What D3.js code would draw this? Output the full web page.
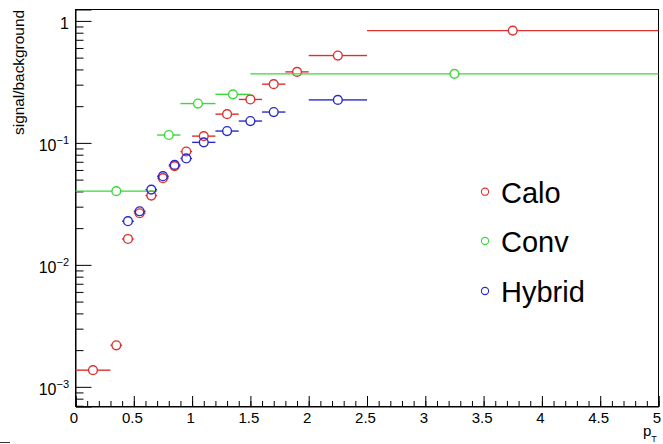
<!DOCTYPE html>
<html>
<head>
<meta charset="utf-8">
<script src="https://cdn.jsdelivr.net/npm/d3@7"></script>
<style>
  html, body { margin: 0; padding: 0; background: #fff; }
  svg { display: block; font-family: "Liberation Sans", Arial, Helvetica, sans-serif; }
</style>
</head>
<body>
<svg id="chart" width="663" height="444"></svg>
<script>
// signal/background vs pT for three photon reconstruction methods (ROOT-style log plot)

// Calo: bin edges and ratio values
const caloLo = [0.0, 0.3, 0.4, 0.5, 0.6, 0.7, 0.8, 0.9, 1.0, 1.2, 1.4, 1.6, 1.8, 2.0, 2.5];
const caloHi = [0.3, 0.4, 0.5, 0.6, 0.7, 0.8, 0.9, 1.0, 1.2, 1.4, 1.6, 1.8, 2.0, 2.5, 5.0];
const caloVal = [0.00137, 0.00219, 0.0163, 0.0265, 0.037, 0.0514, 0.0645, 0.085, 0.1136, 0.172, 0.227, 0.303, 0.382, 0.52, 0.833];

// Conv
const convLo = [0.0, 0.7, 0.9, 1.2, 1.5];
const convHi = [0.7, 0.9, 1.2, 1.5, 5.0];
const convVal = [0.0402, 0.116, 0.21, 0.25, 0.368];

// Hybrid
const hybLo = [0.4, 0.5, 0.6, 0.7, 0.8, 0.9, 1.0, 1.2, 1.4, 1.6, 2.0];
const hybHi = [0.5, 0.6, 0.7, 0.8, 0.9, 1.0, 1.2, 1.4, 1.6, 1.8, 2.5];
const hybVal = [0.0228, 0.0275, 0.0414, 0.0533, 0.066, 0.0745, 0.101, 0.125, 0.151, 0.179, 0.225];

const seriesNames = ['Calo', 'Conv', 'Hybrid'];
const seriesColors = ['#dd3030', '#3ad83a', '#2b2bc8'];

const xMajor = d3.range(0, 5.001, 0.5);
const xMinor = d3.range(0, 5.001, 0.1);
const yMajor = [1e-3, 1e-2, 1e-1, 1];

const svg = d3.select('#chart');
const frame = { left: 75.5, right: 658.5, top: 9.5, bottom: 406.5 };

const x = d3.scaleLinear().domain([0, 5]).range([frame.left, frame.right]);
const y = d3.scaleLog().domain([6.9e-4, 1.24]).range([frame.bottom, frame.top]);

// minor y ticks: 2..9 in each decade inside the domain
const yMinor = [];
[-4, -3, -2, -1, 0].forEach(e => {
  for (let m = 2; m <= 9; m++) {
    const v = m * Math.pow(10, e);
    if (v >= y.domain()[0] && v <= y.domain()[1]) yMinor.push(v);
  }
});

// frame
svg.append('rect').attr('x', frame.left).attr('y', frame.top)
  .attr('width', frame.right - frame.left).attr('height', frame.bottom - frame.top)
  .attr('fill', 'none').attr('stroke', '#000').attr('stroke-width', 1);

// x axis: ticks point up into the frame; ROOT nudges the labels a little left
svg.append('g').attr('transform', `translate(0,${frame.bottom})`)
  .call(d3.axisBottom(x).tickValues(xMinor).tickSize(-5.5).tickFormat(''))
  .call(g => g.select('.domain').remove());
svg.append('g').attr('transform', `translate(0,${frame.bottom})`)
  .call(d3.axisBottom(x).tickValues(xMajor).tickSize(-10.5).tickPadding(6).tickFormat(d3.format('~g')))
  .call(g => g.select('.domain').attr('stroke', '#000'))
  .call(g => g.selectAll('text').attr('x', -2).attr('font-size', 15).attr('font-family', null).attr('fill', '#000'));

// y axis: ticks point right into the frame
svg.append('g').attr('transform', `translate(${frame.left},0)`)
  .call(d3.axisLeft(y).tickValues(yMinor).tickSize(-8).tickFormat(''))
  .call(g => g.select('.domain').remove());
svg.append('g').attr('transform', `translate(${frame.left},0)`)
  .call(d3.axisLeft(y).tickValues(yMajor).tickSize(-16).tickFormat(''))
  .call(g => g.select('.domain').attr('stroke', '#000'));

// y labels with superscript exponents
yMajor.forEach(v => {
  const e = Math.round(Math.log10(v));
  const t = svg.append('text').attr('x', 69).attr('y', y(v) + 8.5)
    .attr('text-anchor', 'end').attr('font-size', 16).attr('fill', '#000');
  if (e === 0) {
    t.text('1');
  } else {
    t.append('tspan').text('10');
    t.append('tspan').attr('dy', -7).attr('font-size', 11).text('\u2212' + (-e));
  }
});

// axis titles
svg.append('text').attr('transform', 'translate(24,10) rotate(-90)')
  .attr('text-anchor', 'end').attr('font-size', 14.5).attr('fill', '#000')
  .attr('textLength', 125).attr('lengthAdjust', 'spacingAndGlyphs').text('signal/background');
const xt = svg.append('text').attr('x', 643).attr('y', 436).attr('font-size', 15).attr('fill', '#000');
xt.append('tspan').text('p');
xt.append('tspan').attr('dy', 6).attr('font-size', 9).text('T');

// stray canvas mark in the bottom-left corner
svg.append('line').attr('x1', 0).attr('x2', 10).attr('y1', 442.5).attr('y2', 442.5)
  .attr('stroke', '#333').attr('stroke-width', 1);

// data points with horizontal bin-width error bars (not drawn inside the marker)
const r = 4.4;
const sets = [
  { lo: caloLo, hi: caloHi, val: caloVal },
  { lo: convLo, hi: convHi, val: convVal },
  { lo: hybLo, hi: hybHi, val: hybVal }
];
const plot = svg.append('g');
sets.forEach((s, k) => {
  const pts = s.val.map((v, i) => ({ lo: s.lo[i], hi: s.hi[i], c: (s.lo[i] + s.hi[i]) / 2, v }));
  const g = plot.append('g').attr('stroke', seriesColors[k]).attr('stroke-width', 1.4).attr('fill', 'none');
  g.selectAll('.el').data(pts).enter().append('line')
    .attr('x1', d => x(d.lo)).attr('x2', d => Math.max(x(d.lo), x(d.c) - r))
    .attr('y1', d => y(d.v)).attr('y2', d => y(d.v));
  g.selectAll('.er').data(pts).enter().append('line')
    .attr('x1', d => Math.min(x(d.hi), x(d.c) + r)).attr('x2', d => x(d.hi))
    .attr('y1', d => y(d.v)).attr('y2', d => y(d.v));
  g.selectAll('circle').data(pts).enter().append('circle')
    .attr('cx', d => x(d.c)).attr('cy', d => y(d.v)).attr('r', r);
});

// legend
const legY = [191.7, 241, 291];
seriesNames.forEach((name, k) => {
  svg.append('circle').attr('cx', 485).attr('cy', legY[k]).attr('r', 3.6)
    .attr('fill', 'none').attr('stroke', seriesColors[k]).attr('stroke-width', 1.1);
  svg.append('text').attr('x', 501).attr('y', legY[k] + 11).attr('font-size', 29).attr('fill', '#000').text(name);
});
</script>
</body>
</html>
